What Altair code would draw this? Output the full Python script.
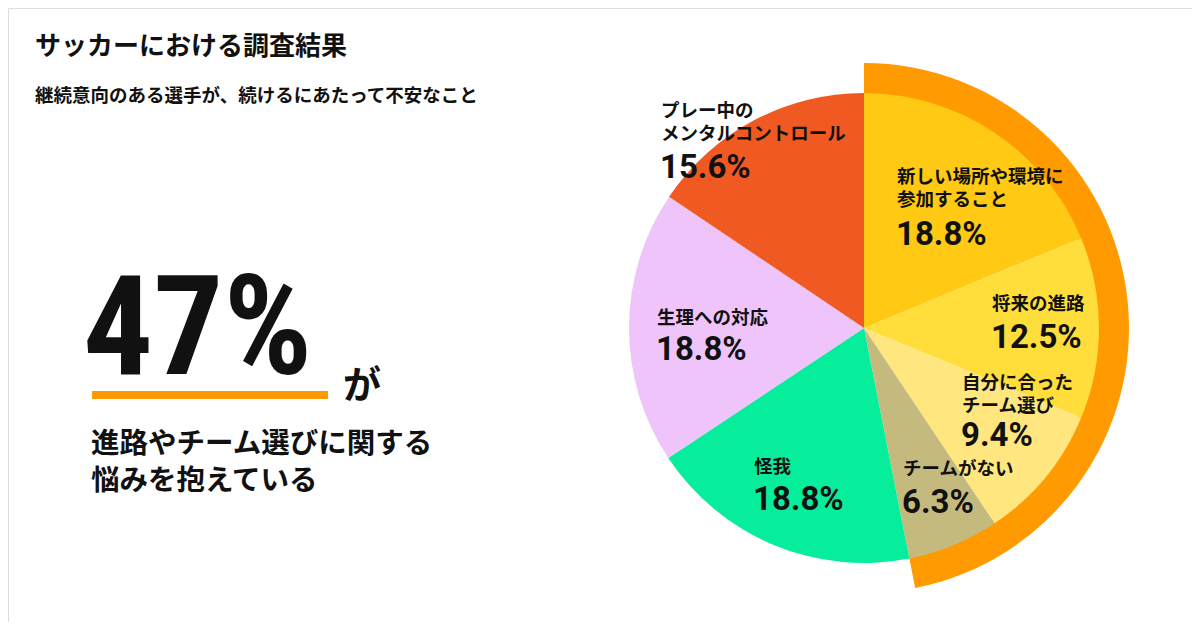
import altair as alt
import pandas as pd

# ---- data ----
categories = ["新しい場所や環境に参加すること", "将来の進路", "自分に合ったチーム選び",
              "チームがない", "怪我", "生理への対応", "プレー中のメンタルコントロール"]
values = [18.8, 12.5, 9.4, 6.3, 18.8, 18.8, 15.6]
label_lines = [["新しい場所や環境に", "参加すること"], ["将来の進路"], ["自分に合った", "チーム選び"],
               ["チームがない"], ["怪我"], ["生理への対応"], ["プレー中の", "メンタルコントロール"]]
highlight_count = 4  # first four slices relate to 進路やチーム選び (47%)

title_text = "サッカーにおける調査結果"
subtitle_text = "継続意向のある選手が、続けるにあたって不安なこと"
big_number = "47%"
big_suffix = "が"
body_lines = ["進路やチーム選びに関する", "悩みを抱えている"]

# ---- style / layout ----
colors = ["#FFC914", "#FFDE3B", "#FFE67E", "#C4BA7E", "#06EE9B", "#EEC4FB", "#F05A22"]
ring_color = "#FF9A00"
FONT = "Noto Sans CJK JP"
NUM_FONT = "Roboto"
BIG_FONT = "Liberation Sans Narrow, Roboto Condensed, Roboto"
M = 8  # page margin
cx, cy = 864 - M, 328 - M
R_PIE, R_RING = 235, 265
# label anchors (page coords): left x, centre y of first line, centre y of percentage
label_pos = [(897, 177, 235), (992, 304, 338), (962, 383, 436), (903, 469, 503),
             (754, 467, 500), (657, 318, 350), (661, 111, 168)]
LINE_GAP = 23

pie_df = pd.DataFrame({"cat": categories, "value": values, "idx": list(range(len(values)))})
hi = round(sum(values[:highlight_count]), 1)
ring_df = pd.DataFrame({"grp": ["hi", "rest"], "value": [hi, round(sum(values) - hi, 1)],
                        "idx": [0, 1]})

rows, prow = [], []
for lines, v, (lx, ly, py) in zip(label_lines, values, label_pos):
    for k, t in enumerate(lines):
        rows.append({"text": t, "x": lx - M, "y": ly + k * LINE_GAP - M, "size": 18.5})
    prow.append({"text": f"{v}%", "x": lx - M - 1, "y": py - M, "size": 33})
lab_df = pd.DataFrame(rows)
pct_df = pd.DataFrame(prow)

left_rows = [
    {"text": title_text, "x": 35 - M, "y": 47 - M, "size": 26},
    {"text": subtitle_text, "x": 35 - M, "y": 96 - M, "size": 18.5},
    {"text": big_suffix, "x": 343 - M, "y": 387 - M, "size": 38},
    {"text": body_lines[0], "x": 91 - M, "y": 444 - M, "size": 28.5},
    {"text": body_lines[1], "x": 91 - M, "y": 481 - M, "size": 28.5},
]
left_df = pd.DataFrame(left_rows)
big_df = pd.DataFrame([{"text": big_number, "x": 83 - M, "y": 332 - M, "size": 139}])

ring = alt.Chart(ring_df).mark_arc(radius=R_RING, radius2=R_PIE - 4, color=ring_color).encode(
    theta=alt.Theta("value:Q", stack=True),
    order=alt.Order("idx:Q"),
    opacity=alt.Opacity("grp:N", scale=alt.Scale(domain=["hi", "rest"], range=[1, 0]), legend=None),
    x=alt.value(cx), y=alt.value(cy),
)

pie = alt.Chart(pie_df).mark_arc(radius=R_PIE).encode(
    theta=alt.Theta("value:Q", stack=True),
    order=alt.Order("idx:Q"),
    color=alt.Color("cat:N", scale=alt.Scale(domain=categories, range=colors), legend=None),
    x=alt.value(cx), y=alt.value(cy),
)


def text_layer(df, font):
    return alt.Chart(df).mark_text(
        font=font, fontWeight="bold", align="left", baseline="middle", color="#111111"
    ).encode(
        x=alt.X("x:Q", scale=None), y=alt.Y("y:Q", scale=None),
        text="text:N", size=alt.Size("size:Q", scale=None),
    )


labels = text_layer(lab_df, FONT)
pcts = text_layer(pct_df, NUM_FONT)
left = text_layer(left_df, FONT)
big = text_layer(big_df, BIG_FONT)

underline = alt.Chart(pd.DataFrame({"a": [0]})).mark_rule(color=ring_color, strokeWidth=8).encode(
    x=alt.value(92 - M), x2=alt.value(328 - M), y=alt.value(395 - M)
)

chart = alt.layer(ring, pie, underline, left, big, labels, pcts).resolve_scale(
    theta="independent", color="independent", opacity="independent"
).properties(
    width=1184, height=614, padding=0, autosize=alt.AutoSizeParams(type="none")
).configure_view(strokeWidth=0, stroke="transparent").configure(background="#FFFFFF")

chart.save("out.html", embed_options={"renderer": "svg", "actions": False})
